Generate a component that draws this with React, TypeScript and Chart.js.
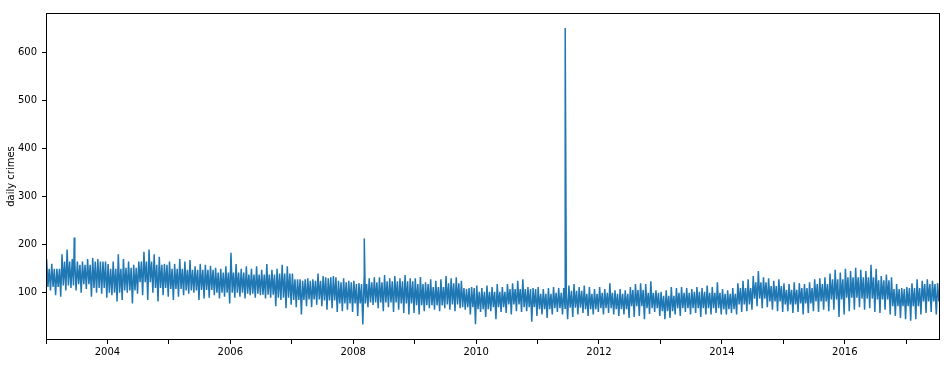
import React, { useEffect, useRef } from 'react';
import { Chart, registerables } from 'chart.js';

Chart.register(...registerables);

// Monthly extremes, Jan 2003 .. Jul 2017
const startYear = 2003;
const monthlyHigh = [
  170, 160, 150, 180, 190, 170, 165, 165, 170, 172, 170, 165, // 2003
  160, 165, 180, 170, 165, 158, 165, 185, 190, 180, 175, 160, // 2004
  165, 160, 170, 165, 168, 155, 160, 158, 156, 152, 150, 155, // 2005
  183, 160, 150, 155, 150, 155, 148, 160, 148, 150, 158, 155, // 2006
  140, 128, 125, 130, 128, 140, 135, 130, 135, 125, 130, 125, // 2007
  125, 120, 130, 130, 132, 132, 137, 130, 135, 130, 137, 130, // 2008
  130, 133, 122, 128, 125, 128, 135, 130, 132, 125, 108, 112, // 2009
  115, 110, 115, 112, 118, 112, 118, 120, 125, 128, 112, 110, // 2010
  112, 108, 110, 112, 110, 110, 115, 118, 112, 115, 112, 108, // 2011
  112, 108, 120, 105, 108, 105, 112, 118, 120, 118, 124, 105, // 2012
  102, 105, 112, 110, 112, 110, 108, 112, 110, 115, 112, 122, // 2013
  108, 105, 110, 120, 125, 128, 135, 145, 132, 130, 125, 128, // 2014
  120, 118, 122, 120, 118, 122, 128, 130, 132, 140, 148, 142, // 2015
  150, 145, 152, 148, 145, 158, 150, 135, 138, 132, 118, 110, // 2016
  112, 120, 128, 125, 128, 125, 120, // 2017
];
const monthlyLow = [
  105, 95, 92, 105, 110, 105, 100, 108, 92, 100, 98, 90, // 2003
  95, 82, 85, 100, 78, 98, 95, 85, 100, 82, 95, 92, // 2004
  85, 92, 95, 98, 100, 85, 88, 90, 95, 88, 92, 78, // 2005
  90, 92, 88, 95, 90, 95, 88, 90, 72, 85, 68, 75, // 2006
  70, 55, 72, 70, 75, 72, 65, 68, 60, 62, 65, 60, // 2007
  52, 34, 70, 75, 68, 62, 70, 60, 65, 58, 55, 58, // 2008
  55, 62, 68, 65, 62, 68, 65, 62, 68, 65, 55, 35, // 2009
  60, 50, 62, 45, 60, 58, 55, 62, 60, 62, 40, 52, // 2010
  55, 48, 55, 60, 55, 45, 50, 55, 58, 52, 55, 60, // 2011
  55, 58, 55, 52, 55, 48, 50, 52, 45, 56, 60, 52, // 2012
  45, 48, 55, 52, 60, 55, 58, 50, 55, 55, 58, 55, // 2013
  55, 58, 55, 60, 62, 65, 72, 68, 70, 65, 62, 60, // 2014
  62, 58, 60, 55, 58, 62, 60, 65, 62, 65, 50, 55, // 2015
  62, 65, 70, 65, 68, 60, 58, 65, 55, 52, 48, 45, // 2016
  42, 45, 55, 58, 60, 55, 50, // 2017
];

// Dense core of the band per quarter (2003 Q1 .. 2017 Q3)
const quarterlyCoreTop = [
  150, 165, 158, 165, // 2003
  150, 152, 165, 158, // 2004
  150, 148, 148, 142, // 2005
  142, 138, 138, 140, // 2006
  128, 125, 132, 122, // 2007
  118, 122, 124, 124, // 2008
  118, 112, 120, 110, // 2009
  102, 102, 108, 108, // 2010
  98, 100, 104, 98, // 2011
  100, 98, 106, 100, // 2012
  94, 100, 102, 100, // 2013
  98, 110, 122, 114, // 2014
  106, 110, 118, 128, // 2015
  132, 132, 126, 108, // 2016
  110, 118, 116, // 2017
];
const quarterlyCoreBottom = [
  112, 115, 118, 110, // 2003
  100, 105, 122, 110, // 2004
  108, 105, 106, 100, // 2005
  100, 98, 96, 90, // 2006
  85, 86, 84, 78, // 2007
  78, 80, 80, 78, // 2008
  74, 74, 76, 70, // 2009
  66, 70, 76, 70, // 2010
  66, 68, 69, 66, // 2011
  68, 66, 72, 68, // 2012
  62, 68, 68, 68, // 2013
  66, 76, 88, 82, // 2014
  76, 78, 82, 86, // 2015
  90, 88, 86, 72, // 2016
  72, 82, 82, // 2017
];

// Single-day spikes
const spikeDates = [2003.46, 2008.18, 2011.45];
const spikeValues = [215, 213, 650];

const yTickValues = [100, 200, 300, 400, 500, 600];
const xMajorYears = [2004, 2006, 2008, 2010, 2012, 2014, 2016];
const xMinorYears = [2003, 2005, 2007, 2009, 2011, 2013, 2015, 2017];

const xMin = 2003;
const xMax = 2017.55;
const yMin = 2;
const yMax = 681;

function buildPoints() {
  const pts: { x: number; y: number }[] = [];
  monthlyHigh.forEach((h, i) => {
    const t = startYear + i / 12;
    const q = Math.floor(i / 3);
    pts.push({ x: t + 0.125 / 12, y: h });
    pts.push({ x: t + 0.375 / 12, y: quarterlyCoreBottom[q] });
    pts.push({ x: t + 0.625 / 12, y: quarterlyCoreTop[q] });
    pts.push({ x: t + 0.875 / 12, y: monthlyLow[i] });
  });
  spikeDates.forEach((d, i) => pts.push({ x: d, y: spikeValues[i] }));
  pts.sort((a, b) => a.x - b.x);
  return pts;
}

const framePlugin = {
  id: 'frame',
  afterDraw(chart: any) {
    const { ctx, chartArea } = chart;
    ctx.save();
    ctx.strokeStyle = '#000';
    ctx.lineWidth = 1;
    const l = Math.round(chartArea.left) + 0.5;
    const t = Math.round(chartArea.top) + 0.5;
    const r = Math.round(chartArea.right) - 0.5;
    const b = Math.round(chartArea.bottom) - 0.5;
    ctx.strokeRect(l, t, r - l, b - t);
    ctx.restore();
  },
};

const font = { family: "'DejaVu Sans', sans-serif", size: 10 };

export default function App() {
  const ref = useRef<HTMLCanvasElement | null>(null);
  useEffect(() => {
    document.body.style.margin = '0';
    const canvas = ref.current;
    if (!canvas) return;
    const chart = new Chart(canvas, {
      type: 'line',
      data: {
        datasets: [
          {
            data: buildPoints(),
            borderColor: '#1f77b4',
            borderWidth: 1.5,
            pointRadius: 0,
            tension: 0,
            fill: false,
          },
        ],
      },
      options: {
        animation: false,
        responsive: false,
        maintainAspectRatio: false,
        events: [],
        layout: { padding: { top: 13, right: 8, left: 0, bottom: 0 } },
        plugins: { legend: { display: false }, tooltip: { enabled: false } },
        scales: {
          x: {
            type: 'linear',
            min: xMin,
            max: xMax,
            afterFit: (s: any) => {
              s.height = 26;
            },
            afterBuildTicks: (s: any) => {
              s.ticks = [...xMajorYears, ...xMinorYears]
                .sort((a, b) => a - b)
                .map((v) => ({ value: v }));
            },
            ticks: {
              autoSkip: false,
              maxRotation: 0,
              minRotation: 0,
              padding: 2,
              color: '#000',
              font,
              callback: (v: any) => (xMajorYears.includes(Number(v)) ? String(v) : ''),
            },
            grid: {
              display: true,
              drawOnChartArea: false,
              drawTicks: true,
              tickLength: 4,
              tickColor: '#000',
            },
            border: { display: false },
          },
          y: {
            type: 'linear',
            min: yMin,
            max: yMax,
            afterFit: (s: any) => {
              s.width = 46;
            },
            afterBuildTicks: (s: any) => {
              s.ticks = yTickValues.map((v) => ({ value: v }));
            },
            ticks: { padding: 5, color: '#000', font },
            grid: {
              display: true,
              drawOnChartArea: false,
              drawTicks: true,
              tickLength: 4,
              tickColor: '#000',
            },
            border: { display: false },
            title: {
              display: true,
              text: 'daily crimes',
              color: '#000',
              font,
              padding: { top: 5, bottom: 0 },
            },
          },
        },
      },
      plugins: [framePlugin],
    } as any);
    return () => chart.destroy();
  }, []);
  return (
    <div style={{ position: 'fixed', left: 0, top: 0, width: 948, height: 366 }}>
      <canvas ref={ref} width={948} height={366} style={{ display: 'block' }} />
    </div>
  );
}
